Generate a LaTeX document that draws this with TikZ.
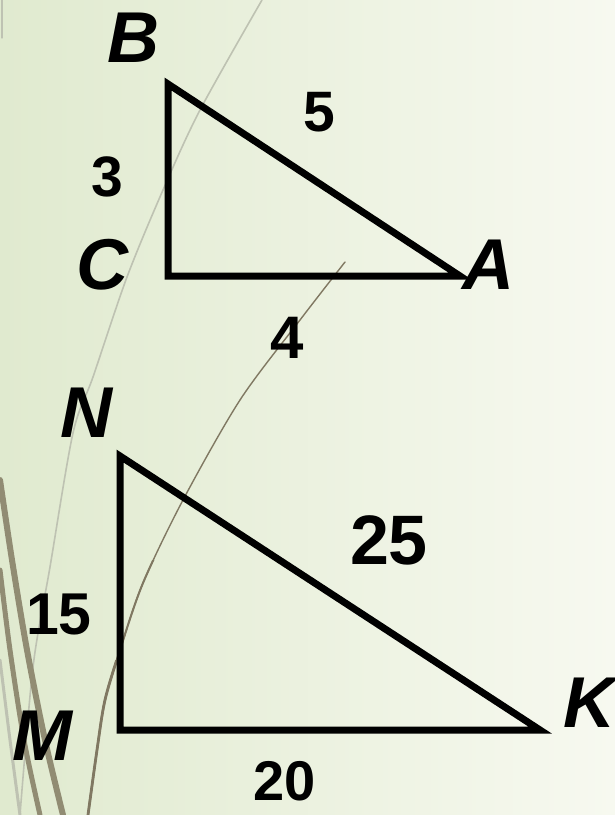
\documentclass[tikz,border=0pt]{standalone}
\usepackage{fontspec}
\setmainfont{Liberation Sans}
\definecolor{bgleft}{RGB}{224,234,207}
\definecolor{bgright}{RGB}{247,249,240}
\definecolor{curvelight}{RGB}{190,194,178}
\definecolor{curvedark}{RGB}{128,120,98}
\definecolor{stemcolor}{RGB}{145,140,115}
\tikzset{
	vertexlabel/.style={inner sep=0pt,font=\fontsize{72}{72}\selectfont\bfseries\itshape},
	sidelabel/.style={inner sep=0pt,font=\fontsize{57}{57}\selectfont\bfseries},
	triside/.style={line width=7pt,line join=miter,color=black}
}
\newcommand{\darkstem}{plot[smooth] coordinates {(345,262) (300,320) (240,400) (183,500) (143,583) (120,650) (105,700) (97,750) (88,815)}}
\begin{document}
\begin{tikzpicture}[line cap=round,line join=round,x=1pt,y=-1pt]
		\useasboundingbox (0,0) rectangle (615,815);
		\shade [left color=bgleft,right color=bgright] (0,0) rectangle (615,815);
		% background curves
		\draw [line width=1.6pt,color=curvelight] plot[smooth] coordinates {(262,0) (200,110) (163,190) (127,277) (93,377) (73,433) (50,567) (33,667) (20,815)};
		\draw [line width=1.4pt,color=curvedark] \darkstem;
		\begin{scope}
			\clip (0,560) rectangle (615,815);
			\draw [line width=2pt,color=curvedark] \darkstem;
		\end{scope}
		\begin{scope}
			\clip (0,660) rectangle (615,815);
			\draw [line width=2.8pt,color=curvedark] \darkstem;
		\end{scope}
		\draw [line width=6pt,color=stemcolor] plot[smooth] coordinates {(0,480) (12,560) (27,650) (45,740) (63,815)};
		\draw [line width=5pt,color=stemcolor] plot[smooth] coordinates {(0,570) (10,650) (24,740) (40,815)};
		\draw [line width=3pt,color=curvelight] plot[smooth] coordinates {(0,660) (10,740) (20,815)};
		\draw [line width=1.2pt,color=curvelight] (2,0) -- (2,38);
		% first triangle
		\coordinate (B) at (168,84);
		\coordinate (C) at (168,276);
		\coordinate (A) at (460,276);
		\draw [triside] (B) -- (C) -- (A) -- cycle;
		% second triangle
		\coordinate (N) at (120,456);
		\coordinate (M) at (120,730);
		\coordinate (K) at (540,730);
		\draw [triside] (N) -- (M) -- (K) -- cycle;
		% labels
		\node [vertexlabel] (labB) at (133,38) {B};
		\node [vertexlabel] (labC) at (102,265) {C};
		\node [vertexlabel] (labA) at (488,265) {A};
		\node [vertexlabel] (labN) at (86,413) {N};
		\node [vertexlabel] (labM) at (42,736) {M};
		\node [vertexlabel] (labK) at (589,703) {K};
		\node [sidelabel] (lab3) at (107,177) {3};
		\node [sidelabel] (lab5) at (319,112) {5};
		\node [sidelabel,font=\fontsize{60}{60}\selectfont\bfseries] (lab4) at (287,338) {4};
		\node [sidelabel,font=\fontsize{59}{59}\selectfont\bfseries] (lab15) at (59,614) {15};
		\node [sidelabel,font=\fontsize{70}{70}\selectfont\bfseries] (lab25) at (389,540) {25};
		\node [sidelabel,font=\fontsize{56}{56}\selectfont\bfseries] (lab20) at (285,781) {20};
	\end{tikzpicture}
\end{document}
